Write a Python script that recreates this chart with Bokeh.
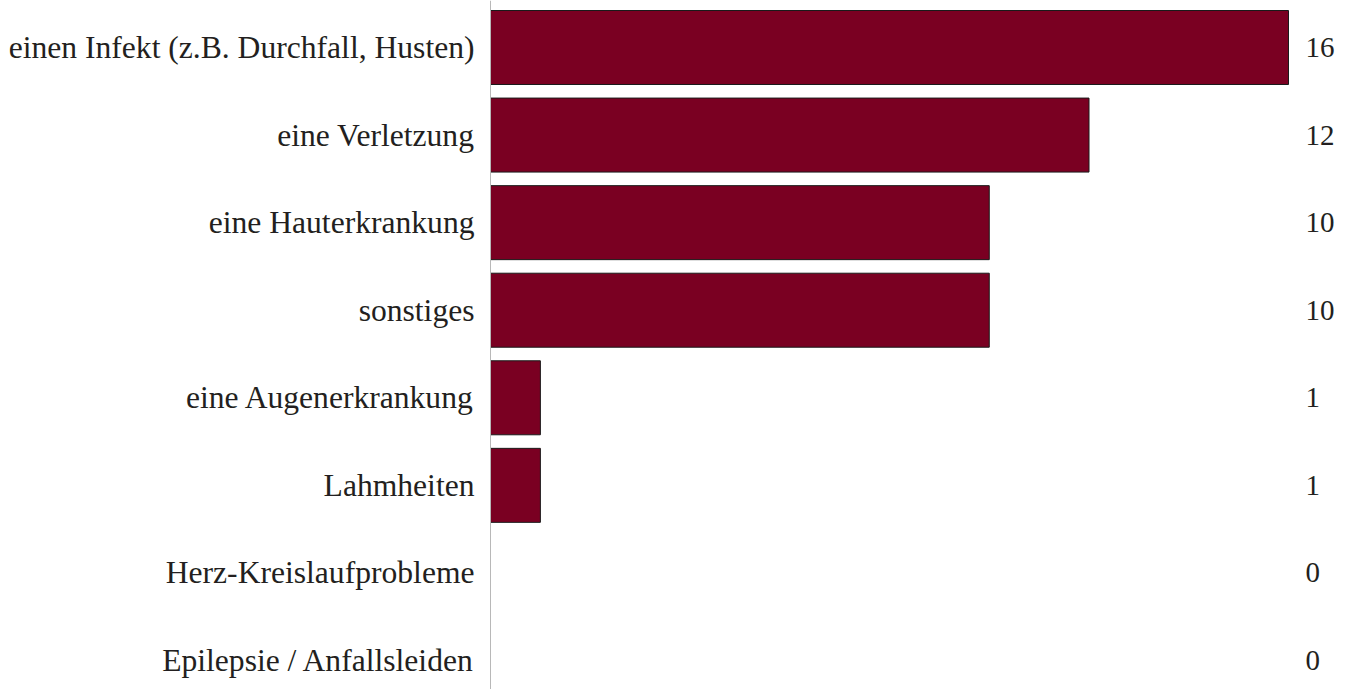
from bokeh.plotting import figure
from bokeh.models import ColumnDataSource, Range1d, Span
from bokeh.core.properties import value
from bokeh.embed import file_html
from bokeh.resources import INLINE

categories = [
    "einen Infekt (z.B. Durchfall, Husten)",
    "eine Verletzung",
    "eine Hauterkrankung",
    "sonstiges",
    "eine Augenerkrankung",
    "Lahmheiten",
    "Herz-Kreislaufprobleme",
    "Epilepsie / Anfallsleiden",
]
counts = [16, 12, 10, 10, 1, 1, 0, 0]

n = len(categories)
ypos = [n - 1 - i for i in range(n)]
src = ColumnDataSource(dict(cat=categories, val=counts, y=ypos,
                            lab=[str(v) for v in counts]))

W, H = 1342, 689
px_per_unit = 49.875
zero_px = 490
x0 = -zero_px / px_per_unit
x1 = (W - zero_px) / px_per_unit
step = 87.57
y_end = (n - 1) + 47 / step
y_start = -(H - 660) / step

p = figure(width=W, height=H, output_backend="svg", toolbar_location=None,
           x_range=Range1d(x0, x1), y_range=Range1d(y_start, y_end),
           min_border=0, min_border_left=0, min_border_right=0,
           min_border_top=0, min_border_bottom=0)
p.axis.visible = False
p.grid.visible = False
p.outline_line_color = None
p.background_fill_color = "white"
p.border_fill_color = "white"

p.add_layout(Span(location=0, dimension="height", line_color="#b8b8b8", line_width=1))

p.hbar(y="y", left=0, right="val", height=0.845, source=src,
       fill_color="#7a0022", line_color="#1a1a1a", line_width=1)

txt_color = "#231f20"
p.text(x=0, y="y", text="cat", source=src, x_offset=-16,
       text_align="right", text_baseline="middle",
       text_font=value("Liberation Serif"), text_font_size="31.6px",
       text_color=txt_color)
p.text(x=max(counts), y="y", text="lab", source=src, x_offset=17,
       text_align="left", text_baseline="middle",
       text_font=value("Liberation Serif"), text_font_size="29px",
       text_color=txt_color)

open("out.html", "w").write(file_html(p, INLINE))
